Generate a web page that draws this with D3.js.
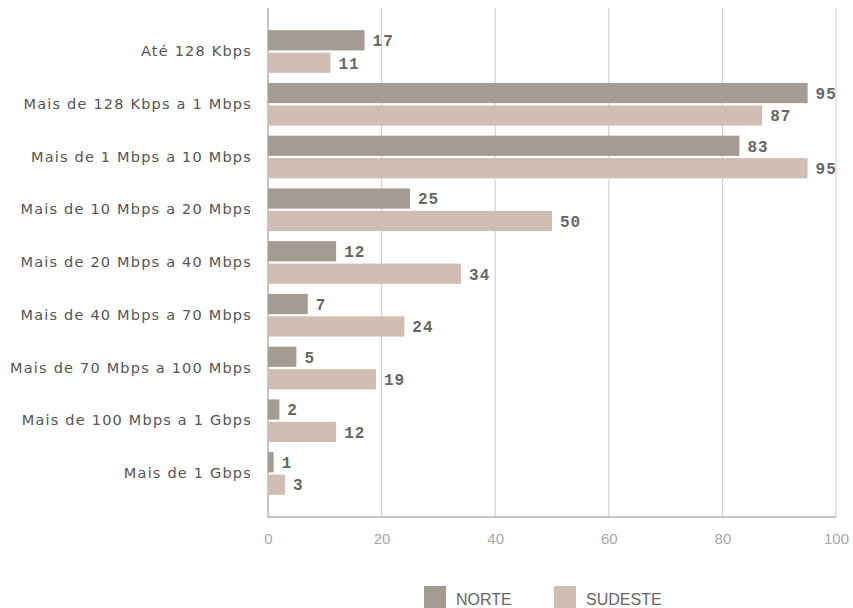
<!DOCTYPE html>
<html><head><meta charset="utf-8">
<script src="https://cdn.jsdelivr.net/npm/d3@7"></script>
<style>body{margin:0;background:#fff;}</style>
</head><body>
<svg id="c" width="853" height="608"></svg>
<script>
const categories = ["Até 128 Kbps","Mais de 128 Kbps a 1 Mbps","Mais de 1 Mbps a 10 Mbps","Mais de 10 Mbps a 20 Mbps","Mais de 20 Mbps a 40 Mbps","Mais de 40 Mbps a 70 Mbps","Mais de 70 Mbps a 100 Mbps","Mais de 100 Mbps a 1 Gbps","Mais de 1 Gbps"];
const seriesNames = ["NORTE","SUDESTE"];
const norte = [17,95,83,25,12,7,5,2,1];
const sudeste = [11,87,95,50,34,24,19,12,3];
const xTicks = [0,20,40,60,80,100];
const colors = ["#a49b92","#d0beb4"];

const svg = d3.select("#c");
const L=268, R=836, T=8, B=517;
const x = d3.scaleLinear().domain([0,100]).range([L,R]);
const y = d3.scaleBand().domain(categories).range([T,B]).paddingInner(0.19).paddingOuter(0.42);
const ys = d3.scaleBand().domain(seriesNames).range([0,y.bandwidth()]).paddingInner(0.1);
const data = [norte, sudeste];

// grid
svg.append("g").selectAll("line").data(xTicks.slice(1)).join("line")
  .attr("x1",d=>x(d)).attr("x2",d=>x(d)).attr("y1",T).attr("y2",B)
  .attr("stroke","#cccccc").attr("stroke-width",1);
// axis lines
svg.append("line").attr("x1",L).attr("x2",L).attr("y1",T).attr("y2",B).attr("stroke","#b3b3b3").attr("stroke-width",1.5);
svg.append("line").attr("x1",L).attr("x2",R).attr("y1",B).attr("y2",B).attr("stroke","#b3b3b3").attr("stroke-width",1.5);

// x axis tick labels
const xa = svg.append("g").attr("transform",`translate(0,${B})`).call(d3.axisBottom(x).tickValues(xTicks).tickSize(0).tickPadding(16));
xa.select(".domain").remove();
xa.selectAll("text").attr("fill","#a8a8a8").attr("font-family","Liberation Sans, Arial, sans-serif").attr("font-size",15);

// y labels
const ya = svg.append("g").attr("transform",`translate(${L},0)`).call(d3.axisLeft(y).tickSize(0).tickPadding(16));
ya.select(".domain").remove();
ya.selectAll("text").attr("fill","#555").attr("font-family","DejaVu Sans, sans-serif").attr("font-size",14.5).attr("letter-spacing","1.2px");

// bars
seriesNames.forEach((s,si)=>{
  const g = svg.append("g");
  g.selectAll("rect").data(categories).join("rect")
    .attr("x",x(0)).attr("y",(c)=>y(c)+ys(s))
    .attr("width",(c,i)=>x(data[si][i])-x(0)).attr("height",ys.bandwidth())
    .attr("fill",colors[si]);
  g.selectAll("text").data(categories).join("text")
    .attr("x",(c,i)=>x(data[si][i])+8).attr("y",(c)=>y(c)+ys(s)+ys.bandwidth()/2)
    .attr("dy","0.36em").attr("fill","#666").attr("font-weight","bold")
    .attr("font-family","Liberation Mono, monospace").attr("font-size",16).attr("letter-spacing","1px")
    .text((c,i)=>data[si][i]);
});

// legend
const lx = [424,554];
seriesNames.forEach((s,i)=>{
  svg.append("rect").attr("x",lx[i]).attr("y",586).attr("width",22).attr("height",22).attr("fill",colors[i]);
  svg.append("text").attr("x",lx[i]+32).attr("y",605).attr("fill","#666")
    .attr("font-family","Liberation Sans, Arial, sans-serif").attr("font-size",16).text(s);
});
</script>
</body></html>
